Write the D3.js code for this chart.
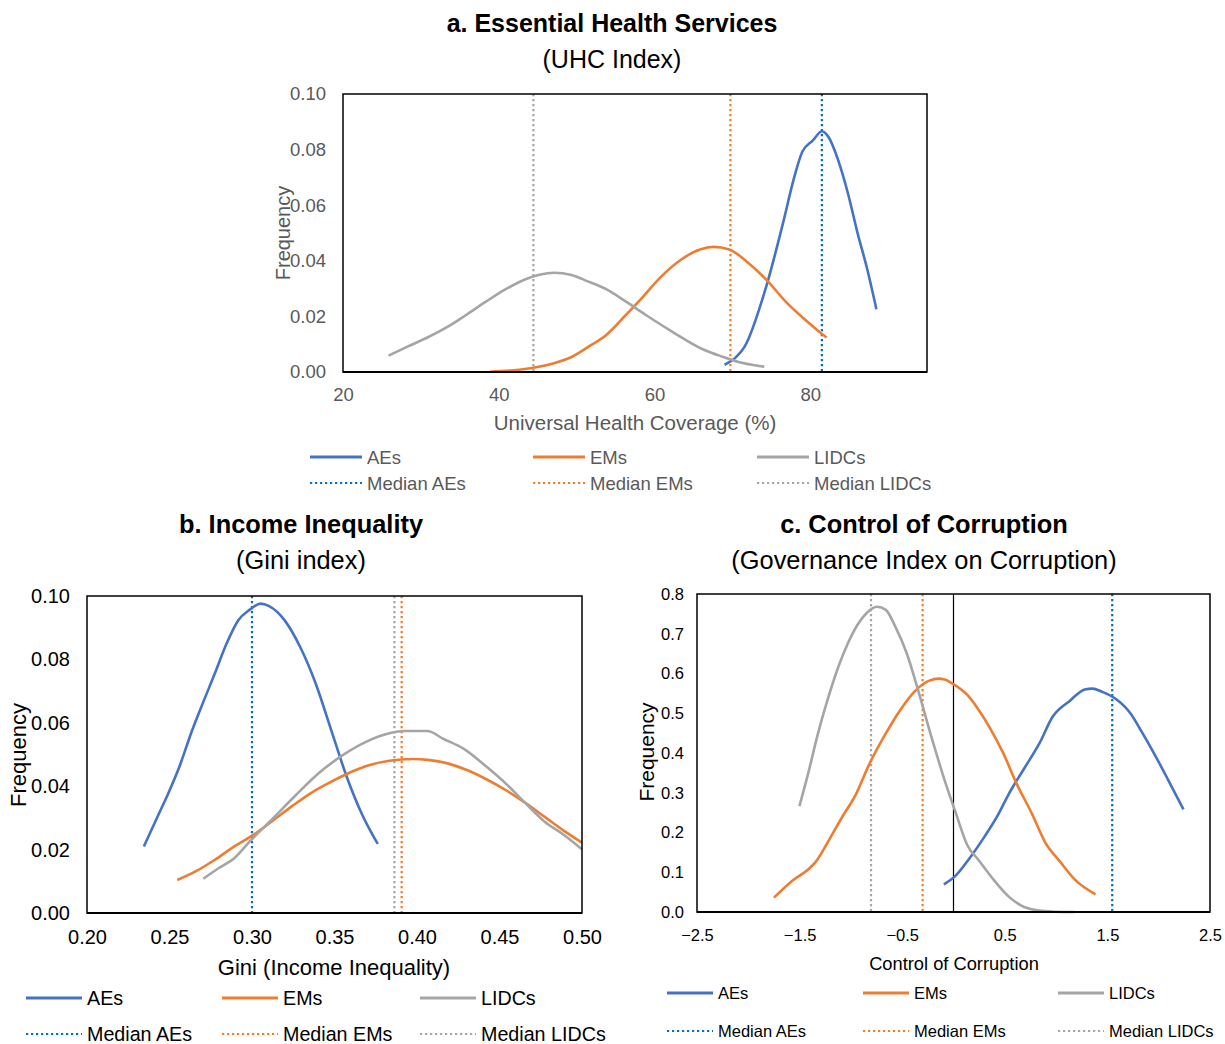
<!DOCTYPE html>
<html>
<head>
<meta charset="utf-8">
<script src="https://cdn.jsdelivr.net/npm/d3@7/dist/d3.min.js"></script>
<style>
  body { margin: 0; background: #fff; }
  svg { display: block; font-family: "Liberation Sans", Arial, sans-serif; }
</style>
</head>
<body>
<svg id="chart" width="1225" height="1044"></svg>
<script>
// ---------- DATA ----------
const seriesNames = ["AEs", "EMs", "LIDCs"];
const medianNames = ["Median AEs", "Median EMs", "Median LIDCs"];

// a. Essential Health Services (UHC Index)
const uhcTicksX = [20, 40, 60, 80];
const uhcTicksY = [0, 0.02, 0.04, 0.06, 0.08, 0.10];
const uhcAEs = [[69.0,0.0026],[70.35,0.005],[71.6,0.0092],[74.35,0.0307],[76.6,0.0546],[77.85,0.069],[79.0,0.0793],[80.35,0.0833],[81.5,0.0866],[82.35,0.0845],[83.6,0.0761],[84.85,0.0642],[86.1,0.0498],[87.35,0.0367],[88.5,0.0226]];
const uhcEMs = [[38.85,0.0001],[41.85,0.0006],[44.6,0.0016],[46.85,0.003],[49.35,0.0054],[51.6,0.0092],[53.85,0.0134],[56.35,0.0206],[58.35,0.0265],[60.85,0.0343],[63.35,0.0403],[65.85,0.0441],[67.6,0.045],[69.6,0.0441],[72.1,0.0391],[74.6,0.0325],[76.85,0.0253],[79.1,0.0194],[80.85,0.0152],[82.1,0.0124]];
const uhcLIDCs = [[25.85,0.0059],[28.35,0.0092],[30.85,0.0124],[33.35,0.0161],[35.85,0.0206],[38.35,0.0253],[40.85,0.0297],[43.35,0.0333],[45.35,0.0351],[47.1,0.0357],[49.35,0.0349],[51.35,0.0327],[53.85,0.0297],[56.35,0.0253],[58.85,0.0206],[61.35,0.0161],[63.85,0.0118],[66.35,0.008],[68.85,0.0054],[71.35,0.0032],[74.1,0.0019]];
const uhcMedians = [81.5, 69.75, 44.45];

// b. Income Inequality (Gini index)
const giniTicksX = [0.20, 0.25, 0.30, 0.35, 0.40, 0.45, 0.50];
const giniTicksY = [0, 0.02, 0.04, 0.06, 0.08, 0.10];
const giniAEs = [[0.2345,0.021],[0.2423,0.0299],[0.2493,0.0378],[0.2564,0.0467],[0.2634,0.0572],[0.2705,0.0666],[0.2775,0.0756],[0.2846,0.085],[0.2916,0.0923],[0.2987,0.0957],[0.3052,0.0976],[0.3104,0.0968],[0.3198,0.0923],[0.3292,0.0839],[0.3386,0.0724],[0.348,0.0577],[0.3574,0.043],[0.3668,0.031],[0.3762,0.0218]];
const giniEMs = [[0.2547,0.0104],[0.2658,0.0131],[0.2775,0.0168],[0.2893,0.021],[0.301,0.0247],[0.3128,0.0292],[0.3245,0.0338],[0.3362,0.038],[0.348,0.0414],[0.3597,0.0444],[0.3715,0.0467],[0.3832,0.048],[0.3973,0.0486],[0.4067,0.0483],[0.4185,0.0472],[0.4302,0.0451],[0.442,0.0422],[0.4537,0.0388],[0.4654,0.0348],[0.4772,0.0304],[0.4889,0.026],[0.5,0.0222]];
const giniLIDCs = [[0.2705,0.0108],[0.2799,0.0142],[0.2893,0.0173],[0.2987,0.0226],[0.3128,0.0299],[0.3268,0.0373],[0.3409,0.0443],[0.355,0.0498],[0.3691,0.054],[0.3832,0.0567],[0.3926,0.0574],[0.4062,0.0574],[0.4161,0.0549],[0.4279,0.0519],[0.442,0.0462],[0.4537,0.0409],[0.4654,0.0348],[0.4772,0.0289],[0.4889,0.0247],[0.5,0.0201]];
const giniMedians = [0.30, 0.3907, 0.3863];

// c. Control of Corruption
const corrTicksX = [-2.5, -1.5, -0.5, 0.5, 1.5, 2.5];
const corrTicksY = [0, 0.1, 0.2, 0.3, 0.4, 0.5, 0.6, 0.7, 0.8];
const corrAEs = [[-0.094,0.0697],[0.024,0.0923],[0.153,0.134],[0.301,0.189],[0.431,0.243],[0.541,0.298],[0.689,0.361],[0.837,0.424],[0.966,0.491],[1.133,0.531],[1.28,0.56],[1.354,0.562],[1.447,0.554],[1.576,0.537],[1.724,0.5],[1.835,0.453],[1.946,0.403],[2.093,0.332],[2.241,0.258]];
const corrEMs = [[-1.75,0.036],[-1.565,0.08],[-1.417,0.107],[-1.343,0.126],[-1.196,0.189],[-1.085,0.239],[-0.955,0.294],[-0.826,0.369],[-0.678,0.441],[-0.53,0.504],[-0.383,0.554],[-0.235,0.582],[-0.142,0.587],[-0.087,0.585],[0.006,0.572],[0.135,0.546],[0.246,0.508],[0.357,0.462],[0.486,0.399],[0.615,0.323],[0.763,0.248],[0.892,0.176],[1.04,0.126],[1.188,0.08],[1.384,0.0445]];
const corrLIDCs = [[-1.502,0.266],[-1.417,0.348],[-1.325,0.445],[-1.233,0.529],[-1.122,0.617],[-1.029,0.676],[-0.937,0.722],[-0.844,0.753],[-0.745,0.768],[-0.66,0.76],[-0.567,0.718],[-0.456,0.651],[-0.345,0.558],[-0.216,0.441],[-0.087,0.332],[0.024,0.248],[0.135,0.168],[0.246,0.13],[0.394,0.08],[0.541,0.038],[0.689,0.0126],[0.837,0.0034],[0.985,0.0008],[1.177,0.0]];
const corrMedians = [1.547, -0.301, -0.804];
const corrZeroLine = 0;

// ---------- STYLE ----------
const lineColors = ["#4472C4", "#ED7D31", "#A5A5A5"];
const medianColors = ["#0070C0", "#F57C22", "#A5A5A5"];

const svg = d3.select("#chart");

function drawPanel(cfg) {
  const g = svg.append("g");
  const x = d3.scaleLinear().domain(cfg.xDomain).range([cfg.left, cfg.right]);
  const y = d3.scaleLinear().domain(cfg.yDomain).range([cfg.bottom, cfg.top]);

  // titles
  g.append("text").attr("x", cfg.titleX).attr("y", cfg.titleY)
    .attr("text-anchor", "middle").attr("font-weight", "bold")
    .attr("font-size", cfg.titleSize).attr("fill", "#000").text(cfg.title);
  g.append("text").attr("x", cfg.titleX).attr("y", cfg.subY)
    .attr("text-anchor", "middle")
    .attr("font-size", cfg.subSize).attr("fill", "#000").text(cfg.subtitle);

  // medians
  cfg.medians.forEach((m, i) => {
    g.append("line")
      .attr("x1", x(m)).attr("x2", x(m))
      .attr("y1", y(cfg.yDomain[1])).attr("y2", y(cfg.yDomain[0]))
      .attr("stroke", medianColors[i]).attr("stroke-width", 2.2)
      .attr("stroke-dasharray", "2.2,2.8");
  });
  if (cfg.zeroLine !== undefined) {
    g.append("line")
      .attr("x1", x(cfg.zeroLine)).attr("x2", x(cfg.zeroLine))
      .attr("y1", y(cfg.yDomain[1])).attr("y2", y(cfg.yDomain[0]))
      .attr("stroke", "#000").attr("stroke-width", 1.2);
  }

  // series
  const line = d3.line().x(d => x(d[0])).y(d => y(d[1])).curve(d3.curveMonotoneX);
  cfg.series.forEach((s, i) => {
    g.append("path").datum(s).attr("d", line)
      .attr("fill", "none").attr("stroke", lineColors[i])
      .attr("stroke-width", 2.6).attr("stroke-linejoin", "round");
  });

  // frame
  g.append("rect").attr("x", cfg.left).attr("y", cfg.top)
    .attr("width", cfg.right - cfg.left).attr("height", cfg.bottom - cfg.top)
    .attr("fill", "none").attr("stroke", "#000").attr("stroke-width", 1.5);
  g.append("line").attr("x1", cfg.left).attr("x2", cfg.right)
    .attr("y1", cfg.bottom).attr("y2", cfg.bottom)
    .attr("stroke", "#000").attr("stroke-width", 2.2);

  // axes
  const xAxis = d3.axisBottom(x).tickValues(cfg.xTicks).tickFormat(cfg.xFormat).tickSize(0).tickPadding(cfg.xPad);
  const xg = g.append("g").attr("transform", `translate(0,${cfg.bottom})`).call(xAxis);
  xg.select(".domain").remove();
  xg.selectAll("text").attr("font-size", cfg.tickSize).attr("fill", cfg.tickColor)
    .attr("font-family", "Liberation Sans, Arial, sans-serif");

  const yAxis = d3.axisLeft(y).tickValues(cfg.yTicks).tickFormat(cfg.yFormat).tickSize(0).tickPadding(cfg.yPad);
  const yg = g.append("g").attr("transform", `translate(${cfg.left},0)`).call(yAxis);
  yg.select(".domain").remove();
  yg.selectAll("text").attr("font-size", cfg.tickSize).attr("fill", cfg.tickColor)
    .attr("font-family", "Liberation Sans, Arial, sans-serif");

  // axis titles
  g.append("text").attr("x", cfg.xTitleX).attr("y", cfg.xTitleY)
    .attr("text-anchor", "middle").attr("font-size", cfg.axisTitleSize)
    .attr("fill", cfg.tickColor).text(cfg.xTitle);
  g.append("text")
    .attr("transform", `translate(${cfg.yTitleX},${cfg.yTitleY}) rotate(-90)`)
    .attr("text-anchor", "middle").attr("dominant-baseline", "central")
    .attr("font-size", cfg.yTitleSize)
    .attr("fill", cfg.tickColor).text("Frequency");

  // legend
  seriesNames.forEach((n, i) => {
    const lx = cfg.legendX[i];
    g.append("line").attr("x1", lx).attr("x2", lx + cfg.legendLen)
      .attr("y1", cfg.legendY[0]).attr("y2", cfg.legendY[0])
      .attr("stroke", lineColors[i]).attr("stroke-width", 2.8);
    g.append("text").attr("x", lx + cfg.legendLen + 5).attr("y", cfg.legendY[0])
      .attr("dominant-baseline", "central").attr("font-size", cfg.legendSize)
      .attr("fill", cfg.tickColor).text(n);
    g.append("line").attr("x1", lx).attr("x2", lx + cfg.legendLen)
      .attr("y1", cfg.legendY[1]).attr("y2", cfg.legendY[1])
      .attr("stroke", medianColors[i]).attr("stroke-width", 2.2)
      .attr("stroke-dasharray", "2.2,2.8");
    g.append("text").attr("x", lx + cfg.legendLen + 5).attr("y", cfg.legendY[1])
      .attr("dominant-baseline", "central").attr("font-size", cfg.legendSize)
      .attr("fill", cfg.tickColor).text(medianNames[i]);
  });
}

drawPanel({
  title: "a. Essential Health Services", subtitle: "(UHC Index)",
  titleX: 612, titleY: 32, subY: 68, titleSize: 25, subSize: 25,
  left: 343, right: 927, top: 94, bottom: 372,
  xDomain: [20, 95], yDomain: [0, 0.10],
  xTicks: uhcTicksX, yTicks: uhcTicksY,
  xFormat: d3.format("d"), yFormat: d3.format(".2f"),
  xPad: 16, yPad: 17, tickSize: 18.5, tickColor: "#595959",
  series: [uhcAEs, uhcEMs, uhcLIDCs], medians: uhcMedians,
  xTitle: "Universal Health Coverage (%)", xTitleX: 635, xTitleY: 430, axisTitleSize: 20.5,
  yTitleX: 283, yTitleY: 233, yTitleSize: 20,
  legendX: [310, 533, 757], legendLen: 52, legendY: [457, 483], legendSize: 18.5
});

drawPanel({
  title: "b. Income Inequality", subtitle: "(Gini index)",
  titleX: 301, titleY: 533, subY: 569, titleSize: 25.4, subSize: 25.4,
  left: 87, right: 582, top: 596, bottom: 913,
  xDomain: [0.2, 0.5], yDomain: [0, 0.10],
  xTicks: giniTicksX, yTicks: giniTicksY,
  xFormat: d3.format(".2f"), yFormat: d3.format(".2f"),
  xPad: 17, yPad: 17, tickSize: 20, tickColor: "#000",
  series: [giniAEs, giniEMs, giniLIDCs], medians: giniMedians,
  xTitle: "Gini (Income Inequality)", xTitleX: 334, xTitleY: 975, axisTitleSize: 22,
  yTitleX: 18, yTitleY: 755, yTitleSize: 22,
  legendX: [26, 222, 420], legendLen: 56, legendY: [998, 1034], legendSize: 19.7
});

drawPanel({
  title: "c. Control of Corruption", subtitle: "(Governance Index on Corruption)",
  titleX: 924, titleY: 533, subY: 569, titleSize: 25.4, subSize: 25.4,
  left: 697, right: 1210, top: 594, bottom: 912,
  xDomain: [-2.5, 2.5], yDomain: [0, 0.8],
  xTicks: corrTicksX, yTicks: corrTicksY,
  xFormat: d3.format(".1f"), yFormat: d3.format(".1f"),
  xPad: 17, yPad: 13, tickSize: 16.5, tickColor: "#000",
  series: [corrAEs, corrEMs, corrLIDCs], medians: corrMedians, zeroLine: corrZeroLine,
  xTitle: "Control of Corruption", xTitleX: 954, xTitleY: 970, axisTitleSize: 18.3,
  yTitleX: 646, yTitleY: 752, yTitleSize: 21,
  legendX: [667, 863, 1058], legendLen: 46, legendY: [993, 1031], legendSize: 16.5
});
</script>
</body>
</html>
